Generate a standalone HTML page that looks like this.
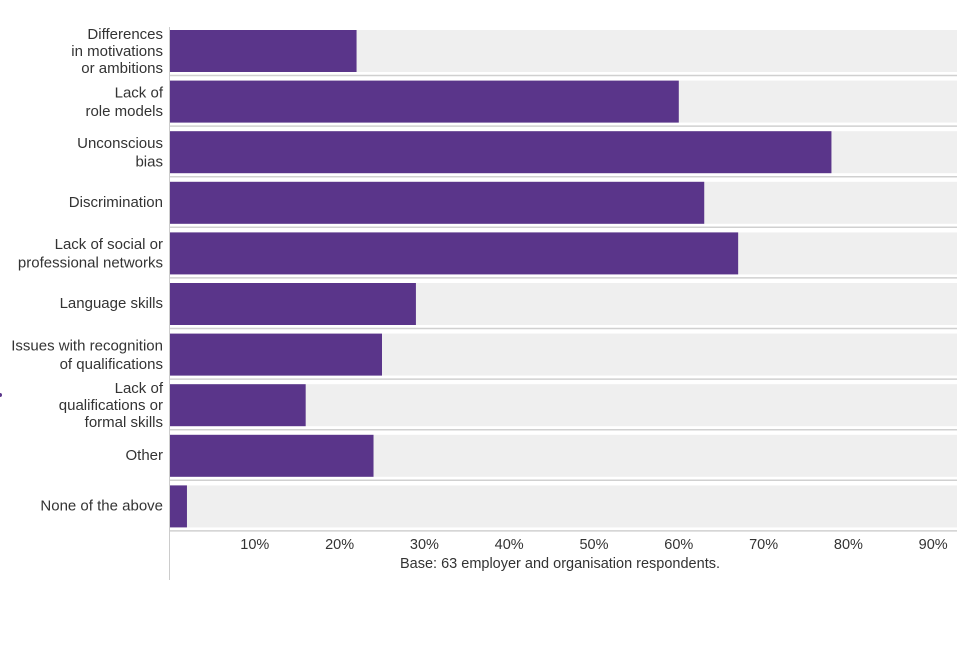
<!DOCTYPE html>
<html><head><meta charset="utf-8"><style>
body{margin:0;background:#fff;}
svg text{font-family:"Liberation Sans",sans-serif;fill:#333;}
</style></head><body>
<svg id="chart" width="960" height="640" xmlns="http://www.w3.org/2000/svg">
<circle cx="0" cy="395" r="2" fill="#5a358a"/>
<line x1="169.5" y1="27" x2="169.5" y2="580" stroke="#ccc" stroke-width="1"/>
<text x="560" y="568" font-size="14.5" text-anchor="middle">Base: 63 employer and organisation respondents.</text>
</svg>
<script>
const categories=[["Differences","in motivations","or ambitions"],["Lack of","role models"],["Unconscious","bias"],["Discrimination"],["Lack of social or","professional networks"],["Language skills"],["Issues with recognition","of qualifications"],["Lack of","qualifications or","formal skills"],["Other"],["None of the above"]];
const values=[22,60,78,63,67,29,25,16,24,2];
const tickValues=[10,20,30,40,50,60,70,80,90];
const tickLabels=["10%","20%","30%","40%","50%","60%","70%","80%","90%"];
const NS="http://www.w3.org/2000/svg";
const svg=document.getElementById('chart');
const x=v=>170+v*8.48;
const rowTop=i=>30+i*50.6;
const BH=42;
function mk(t,a){const e=document.createElementNS(NS,t);for(const k in a)e.setAttribute(k,a[k]);svg.appendChild(e);return e;}
categories.forEach((c,i)=>{
  const t=rowTop(i);
  const sep=mk('line',{x1:170,x2:957,y1:t+BH+3.5,y2:t+BH+3.5,stroke:'#d0d0d0','stroke-width':1.5});
  
  
  const bg=mk('rect',{x:170,y:t,width:787,height:BH,fill:'#efefef'});
  
  
  const b=mk('rect',{x:170,y:t,width:x(values[i])-170,height:BH,fill:'#5a358a'});
  
  
  const n=c.length,lh=n===3?17:18.5,cy=t+BH/2+(n===1?-1:0);
  const tx=mk('text',{x:163,'font-size':15,'text-anchor':'end'});
  
  
  c.forEach((s,j)=>{const ts=document.createElementNS(NS,'tspan');ts.setAttribute('x',163);ts.setAttribute('y',cy+(j-(n-1)/2)*lh+5);ts.textContent=s;tx.appendChild(ts);});
});
tickValues.forEach((v,i)=>{
  const tt=mk('text',{x:x(v),y:549,'font-size':14.5,'text-anchor':'middle'});
  tt.textContent=tickLabels[i];
  
  
});
</script>
</body></html>
